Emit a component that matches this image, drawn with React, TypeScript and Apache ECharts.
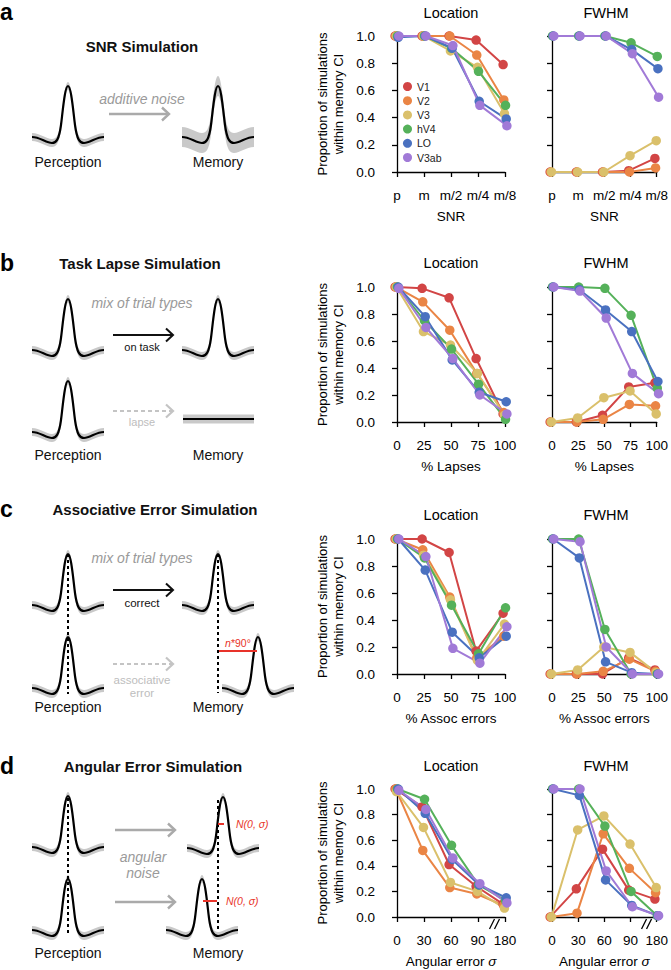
import React, { useEffect, useRef } from 'react';
import * as echarts from 'echarts';

const regions = ['V1', 'V2', 'V3', 'hV4', 'LO', 'V3ab'];
const regionColors = ['#d24545', '#ea8545', '#dac06b', '#55b15a', '#4a71c0', '#a17ad7'];

const snrLabels = ['p', 'm', 'm/2', 'm/4', 'm/8'];
const lapseLabels = ['0', '25', '50', '75', '100'];
const assocLabels = ['0', '25', '50', '75', '100'];
const angleLabels = ['0', '30', '60', '90', '180'];
const yTicks = [0, 0.2, 0.4, 0.6, 0.8, 1.0];

// rows: V1, V2, V3, hV4, LO, V3ab
const snrLocation = [
  [1, 1, 1, 0.97, 0.79],
  [1, 1, 1, 0.86, 0.53],
  [1, 1, 0.89, 0.77, 0.43],
  [1, 1, 0.91, 0.74, 0.49],
  [0.99, 1, 0.91, 0.52, 0.39],
  [1, 1, 0.93, 0.49, 0.34],
];
const snrFwhm = [
  [0, 0, 0, 0.01, 0.1],
  [0, 0, 0, 0, 0.03],
  [0, 0, 0, 0.12, 0.23],
  [1, 1, 1, 0.95, 0.85],
  [1, 1, 1, 0.9, 0.76],
  [1, 1, 1, 0.87, 0.55],
];
const lapseLocation = [
  [1, 0.99, 0.92, 0.47, 0.06],
  [1, 0.89, 0.68, 0.36, 0.07],
  [1, 0.67, 0.57, 0.36, 0.05],
  [1, 0.75, 0.54, 0.28, 0.02],
  [1, 0.78, 0.46, 0.22, 0.15],
  [0.99, 0.7, 0.47, 0.2, 0.06],
];
const lapseFwhm = [
  [0, 0, 0.05, 0.26, 0.29],
  [0, 0, 0.02, 0.13, 0.12],
  [0, 0.03, 0.18, 0.23, 0.06],
  [1, 1, 0.99, 0.79, 0.25],
  [1, 0.98, 0.83, 0.67, 0.3],
  [1, 0.97, 0.77, 0.36, 0.21],
];
const assocLocation = [
  [1, 1, 0.9, 0.17, 0.45],
  [1, 0.92, 0.57, 0.12, 0.28],
  [1, 0.88, 0.55, 0.1, 0.37],
  [1, 0.86, 0.51, 0.15, 0.49],
  [1, 0.77, 0.31, 0.12, 0.28],
  [1, 0.87, 0.19, 0.08, 0.35],
];
const assocFwhm = [
  [0, 0, 0, 0.12, 0.03],
  [0, 0, 0.02, 0.11, 0.02],
  [0, 0.03, 0.2, 0.16, 0.01],
  [1, 1, 0.33, 0, 0],
  [1, 0.86, 0.09, 0.01, 0],
  [1, 0.98, 0.2, 0, 0],
];
const angleLocation = [
  [1, 0.86, 0.41, 0.24, 0.1],
  [1, 0.52, 0.23, 0.18, 0.09],
  [0.98, 0.7, 0.27, 0.2, 0.07],
  [1, 0.92, 0.56, 0.25, 0.13],
  [1, 0.81, 0.45, 0.25, 0.15],
  [0.99, 0.84, 0.46, 0.26, 0.11],
];
const angleFwhm = [
  [0, 0.22, 0.53, 0.21, 0.14],
  [0, 0.03, 0.65, 0.38, 0.19],
  [0, 0.68, 0.79, 0.57, 0.23],
  [1, 1, 0.71, 0.2, 0.01],
  [1, 0.95, 0.29, 0.09, 0.01],
  [1, 1, 0.36, 0.08, 0.01],
];

const FONT = '"Liberation Sans", Arial, Helvetica, sans-serif';
const JITTER = [-0.07, -0.045, -0.02, 0.02, 0.045, 0.07];

// ---------- schematic shapes ----------
type Pt = [number, number];
const C0: Pt = [-36, 0];
const CSEGS: [Pt, Pt, Pt][] = [
  [[-28, 0], [-22, 6], [-16, 6]],
  [[-12, 6], [-9, 3], [-7, -12]],
  [[-5, -28], [-3, -51], [0, -51]],
  [[3, -51], [5, -28], [7, -12]],
  [[9, 3], [12, 6], [16, 6]],
  [[22, 6], [28, 0], [36, 0]],
];
const f = (p: Pt, dy: number) => `${p[0]} ${p[1] + dy}`;
function curveD(dy: number) {
  return `M ${f(C0, dy)} ` + CSEGS.map((s) => `C ${f(s[0], dy)} ${f(s[1], dy)} ${f(s[2], dy)}`).join(' ');
}
function bandD(h: number) {
  let d = curveD(-h);
  const last = CSEGS[CSEGS.length - 1][2];
  d += ` L ${f(last, h)}`;
  for (let i = CSEGS.length - 1; i >= 0; i--) {
    const start = i === 0 ? C0 : CSEGS[i - 1][2];
    d += ` C ${f(CSEGS[i][1], h)} ${f(CSEGS[i][0], h)} ${f(start, h)}`;
  }
  return d + ' Z';
}
echarts.graphic.registerShape('schemCurve', echarts.graphic.extendPath(curveD(0), {}));
echarts.graphic.registerShape('schemBand4', echarts.graphic.extendPath(bandD(4), {}));
echarts.graphic.registerShape('schemBand10', echarts.graphic.extendPath(bandD(10), {}));

const GRAY_BAND = '#c9c9c9';
const RED = '#e8332a';

function curve(cx: number, by: number, wide = false): any[] {
  return [
    { type: wide ? 'schemBand10' : 'schemBand4', x: cx, y: by, style: { fill: GRAY_BAND, stroke: 'none' } },
    { type: 'schemCurve', x: cx, y: by, style: { fill: 'none', stroke: '#000', lineWidth: 2.2 } },
  ];
}
function txt(text: string, x: number, y: number, opt: any = {}): any {
  const align = opt.align || 'center';
  return {
    type: 'text',
    x,
    y,
    style: {
      text,
      fontFamily: FONT,
      fontSize: opt.size || 14,
      fontWeight: opt.weight || 'normal',
      fontStyle: opt.italic ? 'italic' : 'normal',
      fill: opt.color || '#111',
      align,
      textAlign: align,
      verticalAlign: 'middle',
      textVerticalAlign: 'middle',
      rich: opt.rich,
    },
  };
}
function arrow(x1: number, x2: number, y: number, color: string, dashed = false, w = 2.4): any[] {
  return [
    {
      type: 'line',
      shape: { x1, y1: y, x2: x2 - 1, y2: y },
      style: { stroke: color, lineWidth: w, lineDash: dashed ? [4, 3] : null },
    },
    {
      type: 'polyline',
      shape: { points: [[x2 - 7, y - 6.5], [x2, y], [x2 - 7, y + 6.5]] },
      style: { stroke: color, lineWidth: w, fill: 'none' },
    },
  ];
}
function vdash(x: number, y1: number, y2: number): any {
  return { type: 'line', shape: { x1: x, y1, x2: x, y2 }, style: { stroke: '#000', lineWidth: 2, lineDash: [3, 3] } };
}
function redLine(x1: number, x2: number, y: number): any {
  return { type: 'line', shape: { x1, y1: y, x2, y2: y }, style: { stroke: RED, lineWidth: 2 } };
}

function schematic(): any[] {
  const g: any[] = [];
  const bold = { size: 15, weight: 'bold' };
  const letter = { size: 23, weight: 'bold', align: 'left', color: '#000' };
  // a
  g.push(txt('a', 0, 11.5, letter));
  g.push(txt('SNR Simulation', 142, 46, bold));
  g.push(...curve(68, 137));
  g.push(...curve(218, 137, true));
  g.push(txt('additive noise', 142, 99, { italic: true, color: '#9a9a9a' }));
  g.push(...arrow(109, 169, 114, '#aaaaaa'));
  g.push(txt('Perception', 68, 162));
  g.push(txt('Memory', 218, 162));
  // b
  g.push(txt('b', 0, 263, letter));
  g.push(txt('Task Lapse Simulation', 140, 263, bold));
  g.push(...curve(68, 350));
  g.push(...curve(218, 350));
  g.push(txt('mix of trial types', 142, 303, { italic: true, color: '#9a9a9a' }));
  g.push(...arrow(113, 173, 335, '#111', false, 2));
  g.push(txt('on task', 142, 347, { size: 11 }));
  g.push(...curve(68, 432));
  g.push(...arrow(113, 173, 411, '#c4c4c4', true, 2.2));
  g.push(txt('lapse', 142, 422, { size: 11, color: '#bdbdbd' }));
  g.push({ type: 'rect', shape: { x: 183, y: 414.5, width: 71, height: 9 }, style: { fill: GRAY_BAND } });
  g.push({ type: 'line', shape: { x1: 183, y1: 419, x2: 254, y2: 419 }, style: { stroke: '#000', lineWidth: 2.2 } });
  g.push(txt('Perception', 68, 455));
  g.push(txt('Memory', 218, 455));
  // c
  g.push(txt('c', 0, 509, letter));
  g.push(txt('Associative Error Simulation', 155, 509, bold));
  g.push(...curve(68, 605));
  g.push(...curve(218, 605));
  g.push(txt('mix of trial types', 142, 558, { italic: true, color: '#9a9a9a' }));
  g.push(...arrow(113, 173, 590, '#111', false, 2));
  g.push(txt('correct', 142, 603, { size: 11.5 }));
  g.push(...curve(68, 688));
  g.push(...curve(258, 688));
  g.push(...arrow(113, 173, 664, '#c4c4c4', true, 2.2));
  g.push(txt('associative', 142, 680, { size: 11.5, color: '#bdbdbd' }));
  g.push(txt('error', 142, 693, { size: 11.5, color: '#bdbdbd' }));
  g.push(vdash(68, 554, 694));
  g.push(vdash(218, 554, 693));
  g.push(redLine(219, 257, 651));
  g.push(
    txt('{i|n}*90°', 238, 643, {
      size: 10.5,
      color: RED,
      rich: { i: { fontStyle: 'italic', fontSize: 10.5, fill: RED, fontFamily: FONT } },
    })
  );
  g.push(txt('Perception', 68, 707));
  g.push(txt('Memory', 218, 707));
  // d
  g.push(txt('d', 0, 766, letter));
  g.push(txt('Angular Error Simulation', 153, 766, bold));
  g.push(...curve(68, 847));
  g.push(...curve(223, 848));
  g.push(...arrow(115, 175, 830, '#aaaaaa'));
  g.push(txt('angular', 143, 857, { italic: true, color: '#9a9a9a' }));
  g.push(txt('noise', 143, 873, { italic: true, color: '#9a9a9a' }));
  g.push(...curve(68, 930));
  g.push(...curve(202, 930));
  g.push(...arrow(115, 175, 902, '#aaaaaa'));
  g.push(vdash(68, 798, 934));
  g.push(vdash(218, 800, 931));
  g.push(redLine(218, 224, 824));
  g.push(txt('N(0, σ)', 236, 824, { size: 10.5, color: RED, italic: true, align: 'left' }));
  g.push(redLine(203, 217, 901));
  g.push(txt('N(0, σ)', 226, 901, { size: 10.5, color: RED, italic: true, align: 'left' }));
  g.push(txt('Perception', 68, 953));
  g.push(txt('Memory', 218, 953));
  return g;
}

// ---------- charts ----------
const rowsLayout = [
  { top: 36, h: 136, titleY: 13 },
  { top: 287, h: 135, titleY: 263 },
  { top: 539, h: 135, titleY: 515 },
  { top: 789, h: 128, titleY: 766 },
];
const colsLayout = [
  { left: 397, w: 108, yOff: 14, title: 'Location', cx: 451 },
  { left: 552, w: 107, yOff: 17, title: 'FWHM', cx: 606 },
];
const rowData = [
  { labels: snrLabels, name: 'SNR', loc: snrLocation, fw: snrFwhm },
  { labels: lapseLabels, name: '% Lapses', loc: lapseLocation, fw: lapseFwhm },
  { labels: assocLabels, name: '% Assoc errors', loc: assocLocation, fw: assocFwhm },
  { labels: angleLabels, name: 'Angular error {i|σ}', loc: angleLocation, fw: angleFwhm },
];

function buildOption() {
  const grid: any[] = [];
  const xAxis: any[] = [];
  const yAxis: any[] = [];
  const series: any[] = [];
  const axisLine = { show: true, lineStyle: { color: '#000', width: 1.3 } };
  const axisTick = { show: true, length: 5, lineStyle: { color: '#000', width: 1.3 } };
  rowsLayout.forEach((r, ri) => {
    colsLayout.forEach((c, ci) => {
      const k = ri * 2 + ci;
      const rd = rowData[ri];
      grid.push({ left: c.left, top: r.top, width: c.w, height: r.h, containLabel: false });
      xAxis.push({
        type: 'value',
        gridIndex: k,
        min: 0,
        max: 4,
        interval: 1,
        offset: 7,
        axisLine,
        axisTick,
        splitLine: { show: false },
        axisLabel: {
          formatter: (v: number) => rd.labels[Math.round(v)] ?? '',
          margin: 9,
          fontSize: 13.5,
          color: '#000',
          fontFamily: FONT,
          hideOverlap: false,
          showMinLabel: true,
          showMaxLabel: true,
        },
        name: rd.name,
        nameLocation: 'middle',
        nameGap: 30,
        nameTextStyle: {
          fontSize: 13.5,
          color: '#000',
          fontFamily: FONT,
          rich: { i: { fontStyle: 'italic', fontSize: 13.5, color: '#000', fontFamily: FONT } },
        },
      });
      yAxis.push({
        type: 'value',
        gridIndex: k,
        min: yTicks[0],
        max: yTicks[yTicks.length - 1],
        interval: 0.2,
        offset: c.yOff,
        axisLine,
        axisTick,
        splitLine: { show: false },
        axisLabel: {
          show: ci === 0,
          formatter: (v: number) => v.toFixed(1),
          margin: 8,
          fontSize: 13.5,
          color: '#000',
          fontFamily: FONT,
          showMinLabel: true,
          showMaxLabel: true,
        },
        name: ci === 0 ? 'Proportion of simulations\nwithin memory CI' : '',
        nameLocation: 'middle',
        nameGap: 37,
        nameTextStyle: { fontSize: 13, lineHeight: 16, color: '#000', fontFamily: FONT },
      });
      const vals = ci === 0 ? rd.loc : rd.fw;
      regions.forEach((name, i) => {
        series.push({
          type: 'line',
          name,
          xAxisIndex: k,
          yAxisIndex: k,
          data: vals[i].map((v, j) => [j + JITTER[i], v]),
          symbol: 'circle',
          symbolSize: 9.5,
          showSymbol: true,
          clip: false,
          lineStyle: { width: 2, color: regionColors[i] },
          itemStyle: { color: regionColors[i] },
          emphasis: { disabled: true },
          silent: true,
        });
      });
    });
  });
  return {
    animation: false,
    backgroundColor: '#fff',
    grid,
    xAxis,
    yAxis,
    series,
    legend: {
      data: regions,
      orient: 'vertical',
      left: 403,
      top: 81,
      padding: 0,
      itemWidth: 9,
      itemHeight: 9,
      itemGap: 3.2,
      icon: 'circle',
      selectedMode: false,
      textStyle: { fontSize: 10.5, color: '#222', fontFamily: FONT },
    },
  };
}

function titles(): any[] {
  const g: any[] = [];
  rowsLayout.forEach((r) => {
    colsLayout.forEach((c) => {
      g.push(txt(c.title, c.cx, r.titleY, { size: 14.5, color: '#000' }));
    });
  });
  return g;
}

export default function App() {
  const ref = useRef<HTMLDivElement>(null);
  useEffect(() => {
    if (!ref.current) return;
    const chart = echarts.init(ref.current, null, { renderer: 'svg' });
    chart.setOption(buildOption() as any);
    const extra: any[] = [];
    [6, 7].forEach((gi) => {
      const p = chart.convertToPixel({ gridIndex: gi } as any, [3.63, 0]) as number[];
      if (p && isFinite(p[0])) {
        const bx = p[0];
        const ay = p[1] + 7;
        [-3, 2].forEach((dx) => {
          extra.push({
            type: 'line',
            shape: { x1: bx + dx - 2.5, y1: ay + 5, x2: bx + dx + 2.5, y2: ay - 5 },
            style: { stroke: '#000', lineWidth: 1.3 },
          });
        });
      }
    });
    chart.setOption({ graphic: { elements: [...schematic(), ...titles(), ...extra] } } as any);
    return () => chart.dispose();
  }, []);
  return (
    <div
      ref={ref}
      style={{ position: 'fixed', left: 0, top: 0, width: 671, height: 970, background: '#fff' }}
    />
  );
}
